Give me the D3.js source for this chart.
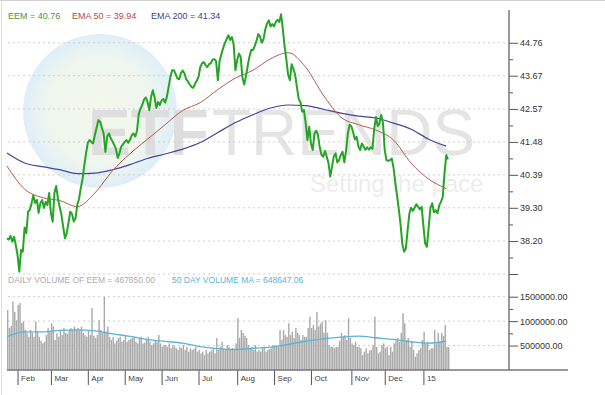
<!DOCTYPE html>
<html>
<head>
<meta charset="utf-8">
<script src="https://cdn.jsdelivr.net/npm/d3@7"></script>
<style>
    body { margin: 0; background: #fff; }
    svg { display: block; font-family: Arial, "Liberation Sans", sans-serif; }
</style>
</head>
<body>
<div id="chart"></div>
<script>
// daily closes of EEM, one per trading session (late Jan 2014 .. Jan 2015)
const closes = [
    38.29, 38.25, 38.37, 38.18, 38.34, 38.07, 37.74, 37.19, 37.90, 37.85,
    38.65, 38.46, 39.17, 39.23, 39.45, 39.72, 39.46, 39.56, 39.13, 39.46,
    39.56, 39.29, 39.50, 39.39, 39.79, 39.13, 38.84, 39.80, 40.02, 39.60,
    39.33, 39.06, 38.67, 38.29, 38.46, 38.80, 39.17, 39.10, 38.85, 38.95,
    39.40, 39.60, 39.95, 40.25, 40.70, 41.10, 41.45, 41.54, 41.48, 41.43,
    41.70, 41.95, 42.20, 42.15, 41.95, 41.76, 41.15, 41.65, 41.76, 41.60,
    41.50, 41.38, 41.25, 40.95, 41.10, 41.32, 41.40, 41.48, 41.54, 41.45,
    41.55, 41.70, 41.76, 41.66, 41.85, 42.40, 42.58, 42.70, 42.88, 42.95,
    42.80, 42.53, 42.97, 43.19, 42.95, 42.60, 42.80, 42.70, 42.85, 42.90,
    42.78, 42.97, 43.30, 43.63, 43.85, 43.85, 43.72, 43.58, 43.55, 43.75,
    43.84, 43.75, 43.55, 43.48, 43.38, 43.30, 43.27, 43.40, 43.50, 43.63,
    43.95, 44.08, 44.12, 44.02, 43.96, 44.05, 44.08, 44.20, 44.22, 44.15,
    43.52, 44.15, 44.38, 44.58, 44.75, 44.88, 45.01, 44.85, 44.95, 44.70,
    43.85, 44.18, 44.40, 44.30, 43.60, 43.38, 43.65, 44.00, 44.30, 44.52,
    44.52, 44.65, 44.82, 45.05, 44.97, 44.76, 44.88, 45.20, 45.40, 45.50,
    45.30, 45.38, 45.30, 45.45, 45.52, 45.45, 45.70, 45.20, 44.65, 44.20,
    43.70, 43.52, 44.05, 43.90, 43.70, 43.30, 42.90, 42.80, 42.48, 42.53,
    42.10, 41.54, 41.98, 41.43, 41.21, 41.76, 41.85, 41.70, 41.30, 41.05,
    40.99, 41.18, 40.99, 40.77, 40.33, 40.66, 41.00, 41.10, 40.80, 40.88,
    41.05, 41.15, 40.80, 41.20, 41.75, 42.05, 42.00, 41.80, 41.56, 41.65,
    41.33, 41.21, 41.43, 41.33, 41.22, 41.30, 41.22, 41.30, 41.25, 41.90,
    42.30, 42.00, 42.10, 42.37, 42.10, 41.20, 40.88, 40.85, 40.88, 40.93,
    40.62, 40.15, 39.70, 39.25, 38.75, 38.10, 37.85, 37.95, 38.55, 39.10,
    39.30, 39.20, 39.30, 39.42, 39.33, 39.25, 39.33, 38.70, 38.12, 38.01,
    38.65, 39.30, 39.45, 39.15, 39.22, 39.12, 39.38, 39.50, 39.65, 40.44,
    41.04, 40.90
];

// daily volume, thousands of shares
const volumesK = [
    1230, 860, 900, 1400, 1190, 1020, 1330, 1370, 960, 990,
    820, 760, 680, 820, 760, 680, 990, 785, 680, 600,
    545, 580, 715, 855, 785, 955, 890, 615, 750, 680,
    820, 715, 860, 760, 740, 820, 860, 820, 890, 820,
    860, 820, 890, 760, 715, 680, 820, 715, 1270, 700,
    655, 715, 1020, 820, 760, 1500, 785, 890, 680, 615,
    680, 545, 600, 655, 680, 580, 615, 715, 580, 615,
    640, 655, 680, 580, 545, 655, 680, 545, 560, 615,
    680, 580, 510, 545, 615, 580, 715, 545, 475, 510,
    510, 475, 545, 445, 510, 480, 445, 410, 475, 445,
    510, 410, 475, 375, 445, 410, 430, 475, 375, 410,
    340, 375, 305, 410, 340, 375, 400, 445, 340, 655,
    410, 475, 580, 445, 410, 510, 475, 410, 450, 410,
    545, 1060, 655, 820, 760, 700, 655, 510, 445, 475,
    410, 510, 375, 410, 375, 445, 475, 375, 410, 430,
    445, 510, 475, 510, 475, 820, 615, 820, 715, 680,
    955, 715, 785, 655, 860, 760, 715, 615, 715, 680,
    680, 860, 1090, 860, 920, 820, 1190, 890, 950, 990,
    760, 1020, 760, 510, 475, 475, 445, 475, 475, 600,
    760, 680, 715, 615, 1060, 655, 545, 510, 580, 475,
    475, 445, 305, 375, 445, 340, 400, 410, 510, 1090,
    475, 340, 375, 510, 545, 445, 480, 305, 475, 375,
    545, 600, 655, 580, 760, 1160, 955, 615, 655, 475,
    580, 410, 270, 340, 410, 445, 615, 785, 545, 580,
    410, 445, 445, 820, 545, 760, 580, 760, 700, 920,
    475, 468
];

// smooth series, read every 10 sessions
const smoothDays = [0, 10, 20, 30, 40, 50, 60, 70, 80, 90, 100, 110, 120,
    130, 140, 150, 160, 170, 180, 190, 200, 210, 220, 230, 240, 250];
const ema50 = [40.68, 39.92, 39.64, 39.54, 39.34, 39.79, 40.52, 41.09, 41.57, 42.05, 42.52, 42.78, 43.21,
    43.59, 43.85, 44.23, 44.43, 43.95, 43.03, 42.30, 42.05, 41.87, 41.54, 40.78, 40.25, 39.94];
const ema200 = [41.11, 40.78, 40.66, 40.56, 40.43, 40.45, 40.56, 40.73, 40.93, 41.08, 41.24, 41.46, 41.79,
    42.12, 42.38, 42.60, 42.70, 42.68, 42.56, 42.43, 42.33, 42.27, 42.10, 41.90, 41.57, 41.34];
const volMA50K = [682, 779, 779, 809, 820, 799, 738, 690, 621, 584, 549, 477, 438,
    420, 445, 467, 523, 588, 635, 672, 695, 660, 625, 578, 549, 590];

const monthDays = [6, 25, 46, 67, 88, 109, 131, 152, 173, 196, 215, 237];
const monthLabels = ['Feb', 'Mar', 'Apr', 'May', 'Jun', 'Jul', 'Aug', 'Sep', 'Oct', 'Nov', 'Dec', '15'];

const priceMin = 37.11;
const priceTicks = [38.20, 39.30, 40.39, 41.48, 42.57, 43.67, 44.76];
const volTicksK = [500, 1000, 1500];

const svg = d3.select('#chart')
    .append('svg')
    .attr('width', 605)
    .attr('height', 395);

const x = d3.scaleLinear().domain([0, 251]).range([7, 448]);
const yPrice = d3.scaleLinear().domain([priceMin, 45.86]).range([274, 9.5]);
const yVol = d3.scaleLinear().domain([0, 1500]).range([370, 296.7]);
const barW = x(1) - x(0);
const fmt2 = d3.format('.2f');

// page frame
svg.append('line').attr('x1', 0).attr('x2', 605).attr('y1', 0.5).attr('y2', 0.5)
    .attr('stroke', '#d0d0d0');
svg.append('line').attr('x1', 1.5).attr('x2', 1.5).attr('y1', 0).attr('y2', 395)
    .attr('stroke', '#e0e0e0');

// watermark
const grad = svg.append('defs').append('radialGradient').attr('id', 'wm');
grad.append('stop').attr('offset', '0%').attr('stop-color', '#f4f8ea');
grad.append('stop').attr('offset', '70%').attr('stop-color', '#eef6ef');
grad.append('stop').attr('offset', '100%').attr('stop-color', '#dfeef8');
svg.append('circle').attr('cx', 100).attr('cy', 111).attr('r', 77).attr('fill', 'url(#wm)');
svg.append('text').attr('x', 88).attr('y', 155).attr('font-size', 64).attr('font-weight', 'bold')
    .attr('fill', '#dedede').text('ETF');
svg.append('text').attr('x', 212).attr('y', 155).attr('font-size', 64)
    .attr('fill', '#e4e4e4').text('TRENDS');
svg.append('text').attr('x', 310).attr('y', 192).attr('font-size', 24)
    .attr('fill', '#ededed').text('Setting the pace');

// gridlines
svg.append('g').selectAll('line')
    .data([priceMin, ...priceTicks])
    .enter()
    .append('line')
    .attr('x1', 8).attr('x2', 509)
    .attr('y1', d => yPrice(d)).attr('y2', d => yPrice(d))
    .attr('stroke', '#cfcfcf').attr('stroke-dasharray', '2,3');

svg.append('g').selectAll('line')
    .data(volTicksK)
    .enter()
    .append('line')
    .attr('x1', 8).attr('x2', 509)
    .attr('y1', d => yVol(d)).attr('y2', d => yVol(d))
    .attr('stroke', '#cfcfcf').attr('stroke-dasharray', '2,3');

// volume bars
svg.append('g').selectAll('rect')
    .data(volumesK)
    .enter()
    .append('rect')
    .attr('x', (d, i) => x(i))
    .attr('y', d => yVol(d))
    .attr('width', barW - 0.35)
    .attr('height', d => yVol(0) - yVol(d))
    .attr('fill', '#a9a9a9');

const smoothLine = yScale => d3.line()
    .x((d, i) => x(smoothDays[i]))
    .y(d => yScale(d))
    .curve(d3.curveMonotoneX);

svg.append('path')
    .datum(volMA50K)
    .attr('fill', 'none')
    .attr('stroke', '#5ab4d6')
    .attr('stroke-width', 1.3)
    .attr('d', smoothLine(yVol));

// price lines
svg.append('path')
    .datum(ema200)
    .attr('fill', 'none')
    .attr('stroke', '#45459a')
    .attr('stroke-width', 1.2)
    .attr('d', smoothLine(yPrice));

svg.append('path')
    .datum(ema50)
    .attr('fill', 'none')
    .attr('stroke', '#b65a4c')
    .attr('stroke-width', 1)
    .attr('d', smoothLine(yPrice));

svg.append('path')
    .datum(closes)
    .attr('fill', 'none')
    .attr('stroke', '#25a525')
    .attr('stroke-width', 2)
    .attr('stroke-linejoin', 'round')
    .attr('d', d3.line().x((d, i) => x(i)).y(d => yPrice(d)));

// axes
function styleAxis(g) {
    g.select('.domain').remove();
    g.selectAll('.tick line').attr('stroke', '#555');
    g.selectAll('.tick text').attr('fill', '#333').attr('font-size', 9)
        .attr('font-family', 'Arial, "Liberation Sans", sans-serif');
}

svg.append('g')
    .attr('transform', 'translate(509,0)')
    .call(d3.axisRight(yPrice)
        .tickValues([priceMin, ...priceTicks])
        .tickSize(9)
        .tickPadding(2)
        .tickFormat(d => d === priceMin ? '' : fmt2(d)))
    .call(styleAxis);

svg.append('g')
    .attr('transform', 'translate(509,0)')
    .call(d3.axisRight(yPrice)
        .tickValues(d3.pairs([priceMin, ...priceTicks]).map(p => (p[0] + p[1]) / 2))
        .tickSize(4)
        .tickFormat(''))
    .call(styleAxis);

svg.append('g')
    .attr('transform', 'translate(509,0)')
    .call(d3.axisRight(yVol)
        .tickValues(volTicksK)
        .tickSize(9)
        .tickPadding(2)
        .tickFormat(d => fmt2(d * 1000)))
    .call(styleAxis);

svg.append('g')
    .attr('transform', 'translate(509,0)')
    .call(d3.axisRight(yVol)
        .tickValues(d3.pairs(volTicksK).map(p => (p[0] + p[1]) / 2))
        .tickSize(4)
        .tickFormat(''))
    .call(styleAxis);

const xAxis = svg.append('g')
    .attr('transform', 'translate(0,370)')
    .call(d3.axisBottom(x)
        .tickValues(monthDays)
        .tickSize(15)
        .tickFormat((d, i) => monthLabels[i]))
    .call(styleAxis);
xAxis.selectAll('.tick text')
    .attr('font-size', 8)
    .attr('text-anchor', 'start')
    .attr('x', 3)
    .attr('y', 5)
    .attr('fill', '#444');

svg.append('line').attr('x1', 509).attr('x2', 509).attr('y1', 10).attr('y2', 370)
    .attr('stroke', '#777').attr('stroke-width', 1.5);
svg.append('line').attr('x1', 7).attr('x2', 568).attr('y1', 370).attr('y2', 370)
    .attr('stroke', '#777').attr('stroke-width', 1.5);

// legends
const legendTop = [
    { text: 'EEM = 40.76', x: 8, color: '#3f9a3f' },
    { text: 'EMA 50 = 39.94', x: 72, color: '#b24a4a' },
    { text: 'EMA 200 = 41.34', x: 151, color: '#3e3e8e' }
];
svg.append('g').selectAll('text')
    .data(legendTop)
    .enter()
    .append('text')
    .attr('x', d => d.x).attr('y', 19)
    .attr('font-size', 9)
    .attr('fill', d => d.color)
    .text(d => d.text);

const legendVol = [
    { text: 'DAILY VOLUME OF EEM = 467650.00', x: 8, color: '#ababab' },
    { text: '50 DAY VOLUME MA = 648647.06', x: 172, color: '#5ab4d6' }
];
svg.append('g').selectAll('text')
    .data(legendVol)
    .enter()
    .append('text')
    .attr('x', d => d.x).attr('y', 282.5)
    .attr('font-size', 8.5)
    .attr('fill', d => d.color)
    .text(d => d.text);
</script>
</body>
</html>
